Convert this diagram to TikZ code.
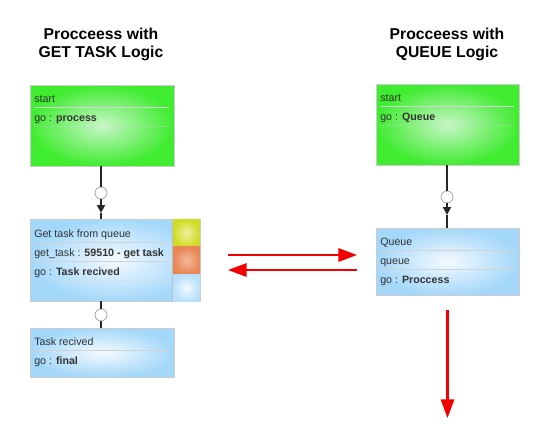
\documentclass[tikz,border=0pt]{standalone}
\usepackage{fontspec}
\setmainfont{Liberation Sans}
\usetikzlibrary{arrows.meta,shadows}
\definecolor{startout}{RGB}{64,236,48}
\definecolor{startin}{RGB}{200,246,200}
\definecolor{stepout}{RGB}{164,216,250}
\definecolor{stepin}{RGB}{244,250,255}
\definecolor{yelout}{RGB}{208,220,34}
\definecolor{yelin}{RGB}{238,240,160}
\definecolor{orout}{RGB}{232,134,86}
\definecolor{orin}{RGB}{242,186,152}
\definecolor{flowred}{RGB}{240,0,0}
\begin{document}
\begin{tikzpicture}[x=0.75pt,y=-0.75pt,
        box/.style={draw=gray!40, line width=0.3pt, inner sep=0pt, outer sep=0pt,
            drop shadow={shadow xshift=0.6pt, shadow yshift=-0.6pt, opacity=0.25}},
        startbox/.style={box, inner color=startin, outer color=startout},
        stepbox/.style={box, inner color=stepin, outer color=stepout},
        square/.style={inner sep=0pt, outer sep=0pt, minimum width=20.25pt, minimum height=20.6pt},
        field/.style={anchor=base west, inner sep=0pt, text=black!80,
            font=\fontsize{8pt}{9.6pt}\selectfont},
        sep/.style={draw=gray!35, line width=0.5pt},
        title/.style={align=center, font=\bfseries\fontsize{11.8pt}{13.5pt}\selectfont},
        joint/.style={circle, draw=gray!70, fill=white, line width=0.6pt,
            minimum size=9pt, inner sep=0pt},
        link/.style={draw=black!85, line width=1.5pt},
        flow/.style={draw=flowred, line width=1.6pt,
            -{Triangle[length=14pt,width=10pt]}}]
    \useasboundingbox (0,0) rectangle (542,443);

    % left column
    \node[title] (titleA) at (101,44) {Procceess with\\GET TASK Logic};

    \node[startbox, minimum width=108pt, minimum height=60.75pt] (startA) at (102,125.5) {};
    \node[field] (startA1) at (34,102) {start};
    \node[field] (startA2) at (34,121.5) {go : \textbf{process}};
    \draw[sep] (34,107) -- (169,107);
    \draw[sep, dotted] (34,126) -- (169,126);

    \node[stepbox, minimum width=127.5pt, minimum height=61.5pt] (taskA) at (115,260) {};
    \node[square, inner color=yelin, outer color=yelout] (taskAs1) at (186.5,233) {};
    \node[square, inner color=orin, outer color=orout] (taskAs2) at (186.5,260.5) {};
    \node[square, inner color=stepin, outer color=stepout!80] (taskAs3) at (186.5,288) {};
    \draw[draw=gray!50, line width=0.6pt] (172.5,219) -- (172.5,301);
    \node[field] (taskA1) at (34,237) {Get task from queue};
    \node[field] (taskA2) at (34,256) {get\_task : \textbf{59510 - get task}};
    \node[field] (taskA3) at (34,275) {go : \textbf{Task recived}};
    \draw[sep] (34,242) -- (169,242);
    \draw[sep] (34,261) -- (169,261);
    \draw[sep, dotted] (34,280) -- (169,280);

    \node[stepbox, minimum width=108pt, minimum height=36.75pt] (recvA) at (102,352.5) {};
    \node[field] (recvA1) at (34,345) {Task recived};
    \node[field] (recvA2) at (34,364) {go : \textbf{final}};
    \draw[sep] (34,350) -- (169,350);
    \draw[sep, dotted] (34,369) -- (169,369);

    \node[joint] (jointA1) at (101,193) {};
    \coordinate (tipA1) at (101,213);
    \draw[link] (startA.south -| jointA1) -- (jointA1);
    \draw[link, -{Triangle[length=6pt,width=6pt]}] (jointA1) -- (tipA1);
    \draw[link] (tipA1) -- (taskA.north -| tipA1);

    \node[joint] (jointA2) at (101,315) {};
    \draw[link] (taskA.south -| jointA2) -- (jointA2);
    \draw[link] (jointA2) -- (recvA.north -| jointA2);

    % right column
    \node[title] (titleB) at (447,44) {Procceess with\\QUEUE Logic};

    \node[startbox, minimum width=107.25pt, minimum height=60.75pt] (startB) at (447.5,124.5) {};
    \node[field] (startB1) at (380,101) {start};
    \node[field] (startB2) at (380,120.5) {go : \textbf{Queue}};
    \draw[sep] (380,106) -- (514,106);
    \draw[sep, dotted] (380,125) -- (514,125);

    \node[stepbox, minimum width=107.25pt, minimum height=50.25pt] (queueB) at (447.5,261.5) {};
    \node[field] (queueB1) at (380,245) {Queue};
    \node[field] (queueB2) at (380,264) {queue};
    \node[field] (queueB3) at (380,283) {go : \textbf{Proccess}};
    \draw[sep] (380,250) -- (514,250);
    \draw[sep] (380,269) -- (514,269);
    \draw[sep, dotted] (380,288) -- (514,288);

    \node[joint] (jointB1) at (447,197) {};
    \coordinate (tipB1) at (447,215);
    \draw[link] (startB.south -| jointB1) -- (jointB1);
    \draw[link, -{Triangle[length=6pt,width=6pt]}] (jointB1) -- (tipB1);
    \draw[link] (tipB1) -- (queueB.north -| tipB1);

    % red flows
    \draw[flow, shorten <=21pt, shorten >=14.25pt]
        ([yshift=3.75pt]taskA.east) -- ([yshift=3.75pt]taskA.east -| queueB.west);
    \draw[flow, shorten <=14.25pt, shorten >=21pt]
        ([yshift=-7.5pt]taskA.east -| queueB.west) -- ([yshift=-7.5pt]taskA.east);
    \coordinate (endB) at (447.5,418);
    \draw[flow, shorten <=11.25pt] (queueB.south) -- (endB);
\end{tikzpicture}
\end{document}
